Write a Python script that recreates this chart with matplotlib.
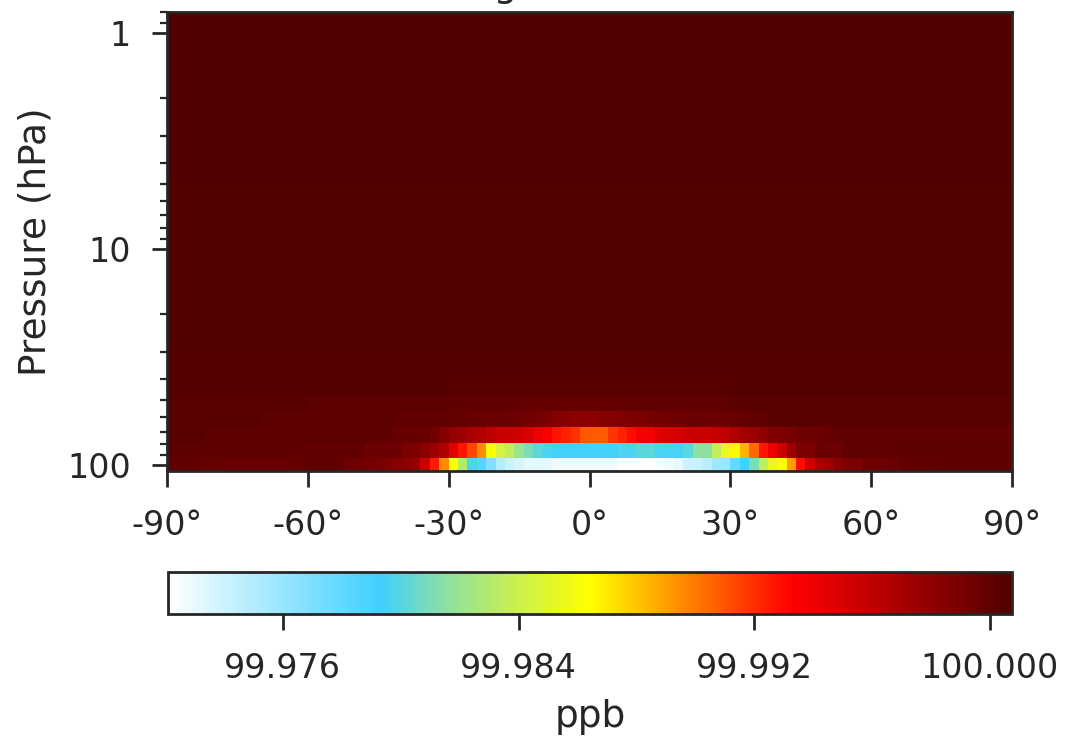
import numpy as np
import matplotlib
matplotlib.use("Agg")
import matplotlib.pyplot as plt
from matplotlib.colors import LinearSegmentedColormap
from matplotlib.ticker import FormatStrFormatter, NullFormatter

# grid: 2 degree latitude cells, pressure cell edges in hPa (bottom -> top)
lat_edges = np.arange(-90, 91, 2)
p_edges = [106.6, 92.8, 79.1, 66.7, 56.3, 48.0, 40.7, 34.5, 29.2, 24.7, 20.9,
           17.7, 15.0, 12.7, 10.8, 9.1, 7.7, 6.5, 5.5, 4.7, 4.0, 3.4, 2.9,
           2.45, 2.07, 1.75, 1.48, 1.25, 1.06, 0.9, 0.8]

# tracer anomaly from 100 ppb, in units of 1e-3 ppb, lowest levels (lat -89 .. 89)
row_99hPa = ([-0.1] * 4 + [-0.15, -0.2] + [-0.3] * 7 + [-0.2] + [0.0] * 4 +
             [-0.2, -0.5, -0.6, -0.8, -1.0, -1.2, -1.5, -1.9, -2.2, -4.5,
              -7.5, -10.5, -13.6, -17.0, -20.3, -21.5, -23.1, -24.9, -25.8, -26.4,
              -26.8, -26.8, -26.8, -27.3, -27.3, -27.3, -27.3, -27.3, -27.3, -27.3,
              -27.9, -27.9, -27.9, -27.9, -27.6, -27.3, -27.0, -25.9, -25.8, -25.3,
              -24.3, -24.0, -22.0, -20.8, -19.0, -16.5, -14.5, -13.6, -11.0, -7.0,
              -4.5, -3.0, -2.5, -1.8, -1.2, -1.2, -0.6, -0.55, -0.5, -0.3] +
             [-0.1] * 4 + [0.0] + [0.1] * 7)

row_86hPa = ([0.1] * 13 + [-0.1] * 8 + [-0.55] * 4 + [-1.2] * 2 +
             [-1.9, -2.5, -3.5, -5.5, -7.3, -8.6, -10.5, -13.6, -15.6, -16.4,
              -18.0, -19.0, -19.9, -20.3, -20.6] +
             [-20.6] * 6 + [-20.3] * 2 + [-19.9] * 2 + [-20.5] * 3 + [-19.9] +
             [-18.4] * 2 +
             [-16.4, -14.5, -13.4, -11.5, -9.5, -7.3, -6.0, -4.5, -2.5] +
             [-1.2] * 2 + [-0.55] * 3 + [-0.1] * 6 + [0.1] * 12)

row_73hPa = ([0.35] * 4 + [0.1] * 20 + [-0.3] * 4 +
             [-0.8, -1.5, -2.3, -2.6, -3.2, -3.5, -4.0, -4.3, -4.5, -4.7,
              -5.1, -6.0, -6.6, -7.3, -7.6, -8.0, -9.0, -9.1, -9.1, -8.2,
              -7.6, -7.0, -6.4, -6.2, -5.5, -5.1, -5.0, -4.6, -4.5, -4.4,
              -4.2, -4.0, -3.5, -2.8, -2.5, -2.0, -1.3, -1.2, -1.0, -0.6,
              -0.55, -0.5, -0.3] +
             [0.05] * 19)

row_61hPa = ([0.35] * 10 + [0.1] * 14 + [-0.1] * 6 +
             [-0.2, -0.25, -0.3, -0.35, -0.4, -0.45, -0.5, -0.6, -0.75, -0.9,
              -1.1, -1.4, -1.7, -1.9, -1.9, -1.9, -1.7, -1.5, -1.3, -1.2,
              -1.1, -0.9, -0.8, -0.7, -0.6, -0.55, -0.55, -0.5, -0.5, -0.45,
              -0.3, -0.15, -0.1, 0.0] +
             [0.2] * 26)

row_52hPa = ([0.35] * 15 + [0.1] * 15 + [0.05] * 8 + [-0.2] * 12 + [0.0] * 10 +
             [0.2] * 13 + [0.3] * 17)

row_44hPa = [0.45] * 30 + [0.35] * 30 + [0.45] * 30

# above ~40 hPa the field is flat in latitude (one value per level, bottom -> top)
upper_levels = [0.5, 0.5, 0.55, 0.55, 0.55, 0.6, 0.6, 0.6, 0.6, 0.6, 0.6, 0.6,
                0.6, 0.65, 0.65, 0.65, 0.65, 0.65, 0.7, 0.7, 0.7, 0.7, 0.72, 0.75]

anom = np.array([row_99hPa, row_86hPa, row_73hPa, row_61hPa, row_52hPa, row_44hPa]
                + [[v] * 90 for v in upper_levels])
ppb = 100.0 + anom * 1e-3

cmap = LinearSegmentedColormap.from_list("wbgyr", [
    (0.0, "#ffffff"), (0.25, "#3fd0ff"), (0.33, "#8fe0a0"), (0.41, "#c8f050"),
    (0.5, "#ffff00"), (0.74, "#ff0000"), (1.0, "#500000")])

ink = "#262626"
plt.rcParams.update({
    "font.family": "DejaVu Sans",
    "font.size": 24,
    "axes.labelsize": 27,
    "text.color": ink,
    "axes.labelcolor": ink,
    "axes.edgecolor": ink,
    "axes.linewidth": 2.0,
    "xtick.color": ink,
    "ytick.color": ink,
    "xtick.major.size": 11.5,
    "ytick.major.size": 11,
    "ytick.minor.size": 5,
    "xtick.major.width": 2.0,
    "ytick.major.width": 2.0,
    "ytick.minor.width": 1.6,
    "xtick.major.pad": 16,
    "ytick.major.pad": 15,
})

fig = plt.figure(figsize=(10.69, 7.41), dpi=100)
ax = fig.add_axes([0.1562, 0.3644, 0.7905, 0.6194])
cax = fig.add_axes([0.1571, 0.1714, 0.7896, 0.0567])

mesh = ax.pcolormesh(lat_edges, p_edges, ppb, cmap=cmap, shading="flat")

ax.set_yscale("log")
ax.set_ylim(106.6, 0.8)
ax.set_yticks([1, 10, 100])
ax.set_yticklabels(["1", "10", "100"])
ax.yaxis.set_minor_formatter(NullFormatter())
ax.set_xlim(-90, 90)
ax.set_xticks([-90, -60, -30, 0, 30, 60, 90])
ax.set_xticklabels(["-90°", "-60°", "-30°", "0°", "30°", "60°", "90°"])
ax.set_ylabel("Pressure (hPa)", labelpad=10)

# title sits mostly above the canvas, only the descender shows
fig.text(0.5515, 1 + 4 / 741, "Regional tracer", ha="center", va="baseline",
         fontsize=27)

cb = fig.colorbar(mesh, cax=cax, orientation="horizontal",
                  ticks=[99.976, 99.984, 99.992, 100.0])
cb.ax.xaxis.set_major_formatter(FormatStrFormatter("%.3f"))
cb.ax.tick_params(length=11.5, width=2.0, pad=16)
cb.outline.set_linewidth(2.0)
cb.set_label("ppb", labelpad=10)

fig.savefig("out.png", dpi=100)
